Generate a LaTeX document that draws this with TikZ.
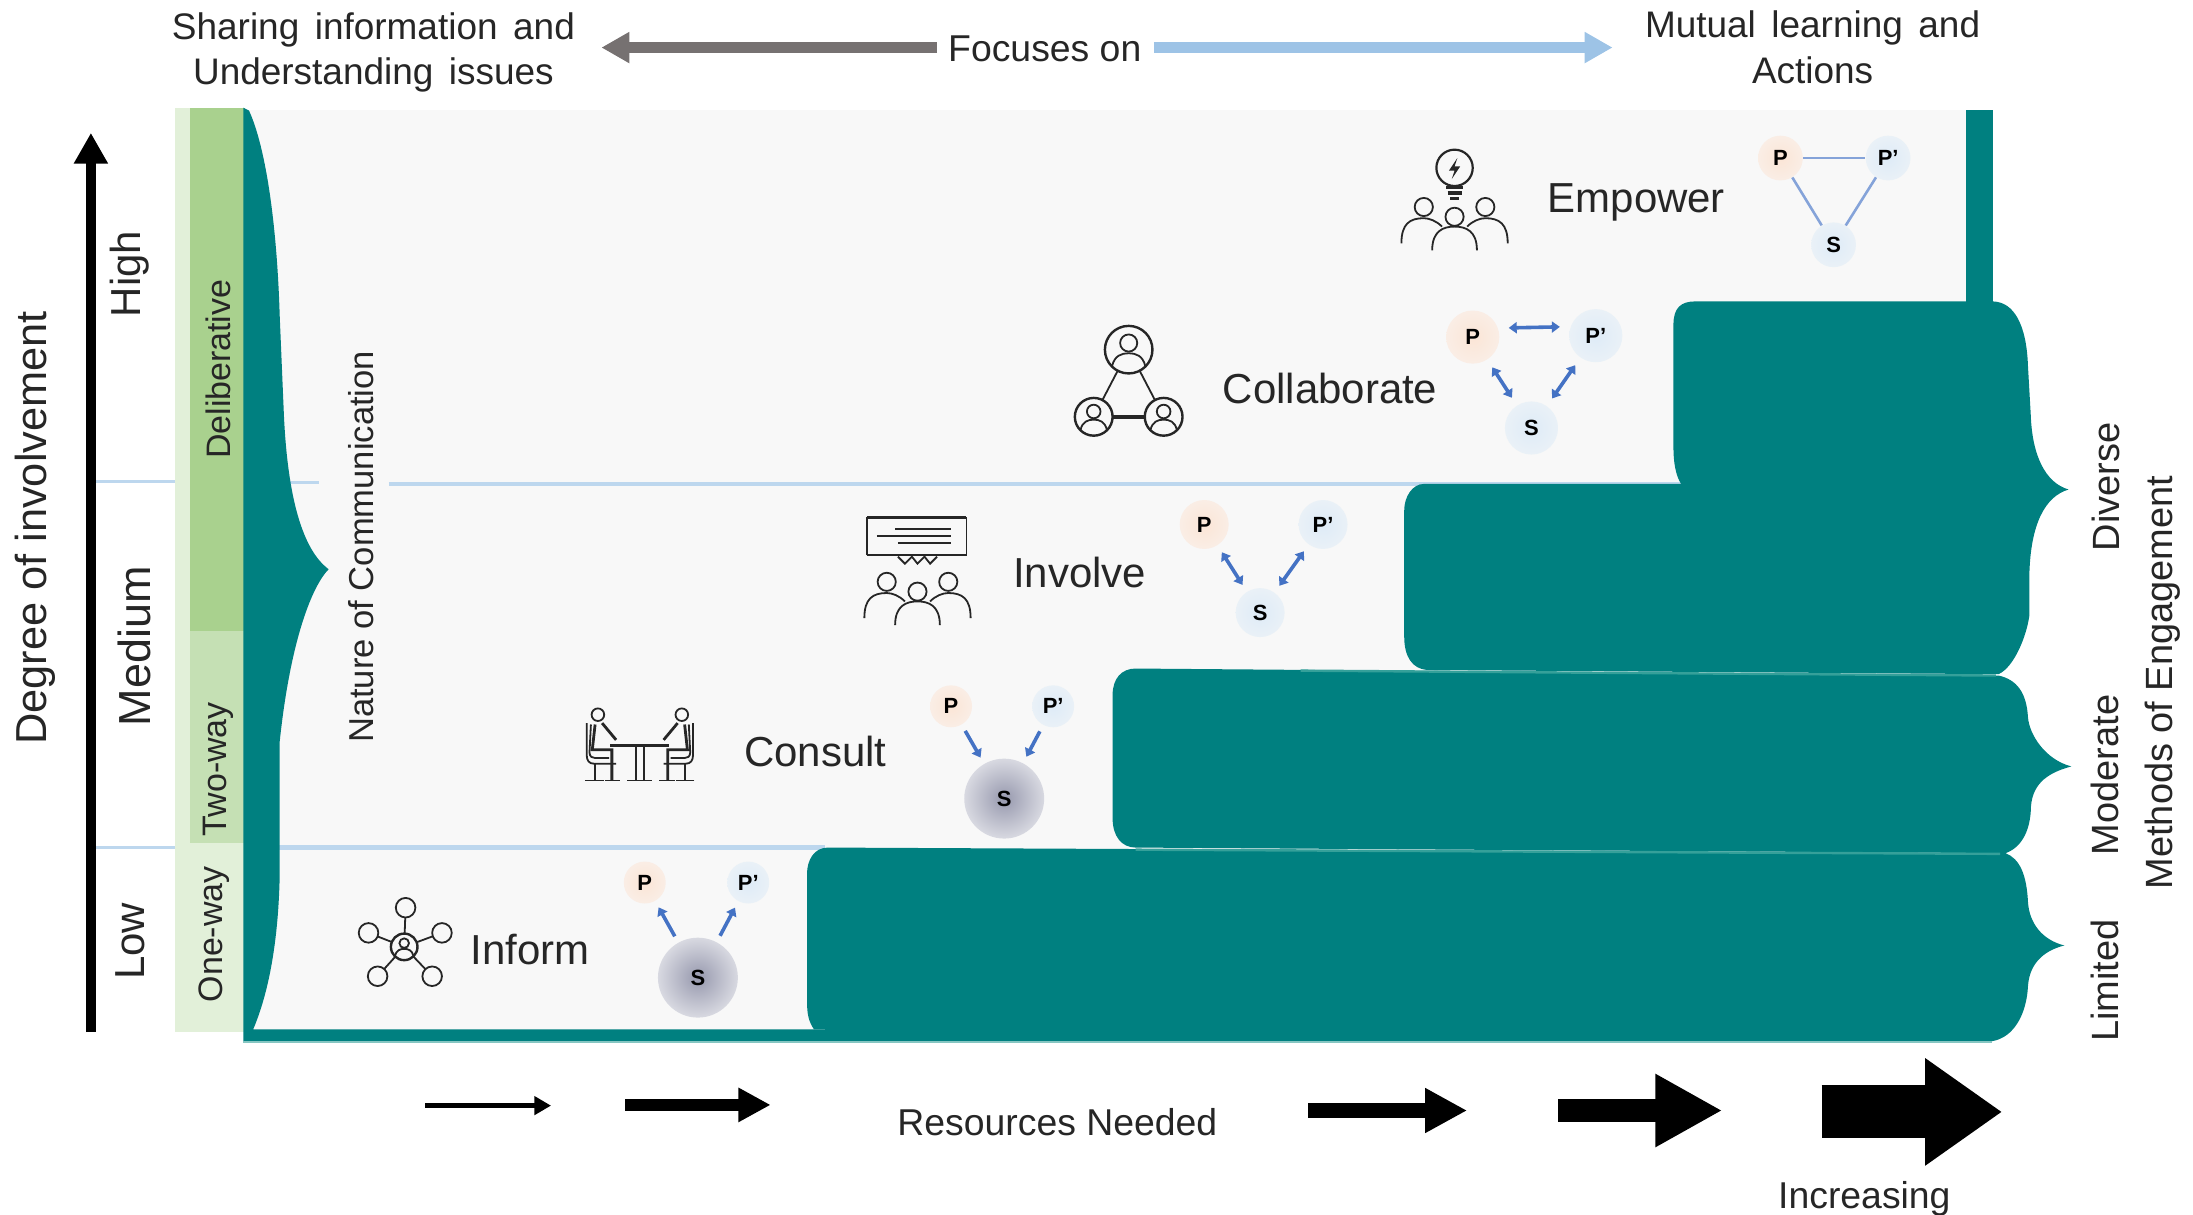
\documentclass[tikz,border=0pt]{standalone}
\usepackage{fontspec}
\usepackage{xcolor}
\usetikzlibrary{arrows.meta,shapes,positioning,calc}
\setmainfont{Liberation Sans}

\definecolor{tealfill}{HTML}{008080}
\definecolor{tealedge}{HTML}{35A09A}
\definecolor{panelgray}{HTML}{F8F8F8}
\definecolor{greendark}{HTML}{A9D18E}
\definecolor{greenmid}{HTML}{C5E0B4}
\definecolor{greenlight}{HTML}{E2F0D9}
\definecolor{sepblue}{HTML}{BDD7EE}
\definecolor{focusgray}{HTML}{767171}
\definecolor{focusblue}{HTML}{9DC3E6}
\definecolor{linkblue}{HTML}{4472C4}
\definecolor{softorange}{HTML}{FBE5D6}
\definecolor{softblue}{HTML}{DEEBF7}
\definecolor{sourcecore}{HTML}{9799AE}
\definecolor{sourcerim}{HTML}{D8D9E1}
\definecolor{txtdark}{HTML}{262626}

\newcommand{\wideword}{\spaceskip=0.42em\relax}

\tikzset{
  txt/.style={text=txtdark, inner sep=0pt, font=\fontsize{#1}{#1}\selectfont},
  toptxt/.style={text=txtdark, inner sep=0pt, align=center, font=\fontsize{18.5}{23}\selectfont\wideword},
  vert/.style={txt=#1, rotate=90},
  step label/.style={txt=21},
  iconline/.style={draw=txtdark, line width=0.9pt},
  pnode/.style={circle, minimum size=#1*0.7pt, inner sep=0pt, font=\bfseries\fontsize{11}{11}\selectfont,
    inner color=softorange, outer color=softorange!55!panelgray},
  qnode/.style={circle, minimum size=#1*0.7pt, inner sep=0pt, font=\bfseries\fontsize{11}{11}\selectfont,
    inner color=softblue, outer color=softblue!55!panelgray},
  snode/.style={circle, minimum size=40pt, inner sep=0pt, font=\bfseries\fontsize{11}{11}\selectfont,
    inner color=sourcecore, outer color=sourcerim},
  linkarrow/.style={line width=1.8pt, draw=linkblue, shorten >=#1, shorten <=#1,
    arrows={-{Triangle[length=4pt,width=5.5pt]}}},
  linkboth/.style={line width=1.8pt, draw=linkblue, shorten >=#1, shorten <=#1,
    arrows={{Triangle[length=4pt,width=5.5pt]}-{Triangle[length=4pt,width=5.5pt]}}},
  plainlink/.style={line width=1.3pt, draw=linkblue!65!white},
  resarrow/.style n args={3}{draw=black, line width=#1*0.7pt,
    arrows={-{Triangle[length=#2*0.7pt,width=#3*0.7pt]}}},
}

% three people with the middle head at #1,#2
\newcommand{\peoplegroup}[2]{%
  \begin{scope}[shift={(#1,#2)}]
    \draw[iconline] (0,0) circle[radius=6.5] (-22,-7) circle[radius=6.5] (22,-7) circle[radius=6.5];
    \draw[iconline] (-16,24) .. controls (-16,10) and (-8,7) .. (0,7) .. controls (8,7) and (16,10) .. (16,24);
    \draw[iconline] (-38,19) .. controls (-38,5) and (-32,1) .. (-22,1) .. controls (-18,1) and (-13,3) .. (-9,7);
    \draw[iconline] (38,19) .. controls (38,5) and (32,1) .. (22,1) .. controls (18,1) and (13,3) .. (9,7);
  \end{scope}}
% person inside a ring
\newcommand{\ringperson}[3]{%
  \begin{scope}[shift={(#1,#2)}, scale=#3]
    \draw[iconline, line width=1.2pt, fill=panelgray] (0,0) circle[radius=1];
    \draw[iconline] (0,-0.28) circle[radius=0.36];
    \draw[iconline] (-0.7,0.7) .. controls (-0.6,0.25) and (-0.3,0.15) .. (0,0.15) .. controls (0.3,0.15) and (0.6,0.25) .. (0.7,0.7);
  \end{scope}}
% one seated person, left side of the table
\newcommand{\seatedperson}{%
  \draw[iconline] (-30,511) circle[radius=4.5];
  \draw[iconline, line width=1.4pt] (-27,517) -- (-17,529) (-32,518) -- (-34,536) -- (-20,536) -- (-20,558);
  \draw[iconline] (-38,517) -- (-38,540) .. controls (-38,544) and (-36,546) .. (-33,546) -- (-17,546);
  \draw[iconline] (-35,518) -- (-36,538) .. controls (-36,541) and (-34,542) .. (-32,542) -- (-22,542);
  \draw[iconline] (-32,546) -- (-32,558) (-39,558) -- (-26,558) (-25,558) -- (-14,558);
}

\begin{document}
\begin{tikzpicture}[x=0.7pt, y=-0.7pt]
  \useasboundingbox (0,0) rectangle (1568,868.7);

  % Panel and green columns
  \fill[panelgray] (175,79) rectangle (1406,737);
  \fill[greenlight] (125,77) rectangle (175,738);
  \fill[greendark] (136,77) rectangle (175,451);
  \fill[greenmid] (136,451) rectangle (175,603);

  % Blue separators
  \coordinate (highL) at (65,344); \coordinate (highR) at (125,344);
  \coordinate (midL) at (65,606); \coordinate (midR) at (125,606);
  \draw[sepblue, line width=1.4pt] (highL) -- (highR);
  \draw[sepblue, line width=1.4pt] (midL) -- (midR);
  \coordinate (sepa) at (190,345); \coordinate (sepb) at (228,345);
  \coordinate (sepc) at (278,346); \coordinate (sepd) at (1205,346);
  \coordinate (sepe) at (190,606); \coordinate (sepf) at (590,606);
  \draw[sepblue, line width=1.8pt] (sepa) -- (sepb);
  \draw[sepblue, line width=1.8pt] (sepc) -- (sepd);
  \draw[sepblue, line width=2.4pt] (sepe) -- (sepf);

  % Teal blocks with their braces
  \fill[tealfill] (1406,79) rectangle (1425,217);
  \fill[tealfill] (1196.5,232) .. controls (1196.5,220) and (1202,215.5) .. (1212,215.5) -- (1425,215.5)
    .. controls (1440,216) and (1449,232) .. (1450,262) -- (1452,297)
    .. controls (1453,325) and (1462,345) .. (1479,350)
    .. controls (1462,355) and (1452,375) .. (1451,410) -- (1451,440)
    .. controls (1449,455) and (1440,477) .. (1429,482) -- (1020,479)
    .. controls (1010,478) and (1004,470) .. (1004,455) -- (1004,365)
    .. controls (1004,355) and (1010,346) .. (1018,346) -- (1202,346)
    .. controls (1198,340) and (1196.5,330) .. (1196.5,320) -- cycle;
  \fill[tealfill] (795.5,497) .. controls (795.5,485) and (802,478) .. (812,478) -- (1429,483)
    .. controls (1442,486) and (1449,495) .. (1450,513) .. controls (1451,525) and (1462,543) .. (1481,548)
    .. controls (1462,553) and (1452,562) .. (1452,580) .. controls (1451,595) and (1445,606) .. (1434,610)
    -- (812,606) .. controls (802,606) and (795.5,598) .. (795.5,585) -- cycle;
  \fill[tealfill] (577,625) .. controls (577,615) and (582,606) .. (592,606) -- (1434,610)
    .. controls (1444,614) and (1449,625) .. (1450,645) .. controls (1451,660) and (1460,672) .. (1476,676)
    .. controls (1460,680) and (1451,690) .. (1450,705) .. controls (1449,725) and (1440,742) .. (1424,744.5)
    -- (590,744.5) -- (590,736) -- (582,736) .. controls (578,730) and (577,725) .. (577,715) -- cycle;
  \draw[tealedge, line width=1.2pt] (930,479.5) -- (1427,483);
  \draw[tealedge, line width=1.2pt] (812,607.5) -- (1430,610.5);

  % Left brace and bottom bar
  \fill[tealfill] (174,77) -- (178,79) .. controls (190,105) and (198,160) .. (200,226) -- (203,297)
    .. controls (205,340) and (212,390) .. (235,407)
    .. controls (224,418) and (208,455) .. (200,530) -- (200,625)
    .. controls (199,680) and (190,715) .. (181,736) -- (590,736) -- (590,744.5) -- (174,744.5) -- cycle;
  \draw[tealedge!60!white, line width=0.8pt] (174,745) -- (1424,745);

  % Vertical axis
  \coordinate (axisbot) at (65,738); \coordinate (axistop) at (65,95);
  \draw[resarrow={7}{22}{23}] (axisbot) -- (axistop);
  \node[vert=21.7] (degree) at (25,377.5) {Degree of involvement};
  \node[vert=21] (high) at (93,196) {High};
  \node[vert=22.5] (medium) at (96,462) {Medium};
  \node[vert=21] (low) at (93,673) {Low};
  \node[vert=17] (delib) at (156,264) {Deliberative};
  \node[vert=17] (twoway) at (156,550) {Two-way};
  \node[vert=17] (oneway) at (153,668) {One-way};
  \node[vert=17.3] (nature) at (258,391) {Nature of Communication};

  % Top labels and arrows
  \node[toptxt] (sharing) at (267,37.5) {Sharing information and\\Understanding issues};
  \node[toptxt] (mutual) at (1296,34) {Mutual learning and\\Actions};
  \node[txt=18.7] (focus) at (747,35) {Focuses on};
  \coordinate (graytip) at (430,34); \coordinate (bluetip) at (1153,34);
  \coordinate (graytail) at (670,34); \coordinate (bluetail) at (825,34);
  \draw[resarrow={7.5}{20}{21}, draw=focusgray, color=focusgray] (graytail) -- (graytip);
  \draw[resarrow={7.5}{20}{21}, draw=focusblue, color=focusblue] (bluetail) -- (bluetip);

  % Right labels
  \node[vert=19] (diverse) at (1506,348) {Diverse};
  \node[vert=19] (moderate) at (1505,554) {Moderate};
  \node[vert=19] (limited) at (1505,701) {Limited};
  \node[vert=19] (methods) at (1546,488) {Methods of Engagement};

  % Bottom arrows
  \coordinate (ra) at (304,790.5); \coordinate (rb) at (394,790.5);
  \coordinate (rc) at (447,790); \coordinate (rd) at (551,790);
  \coordinate (re) at (935.5,794); \coordinate (rf) at (1049,794);
  \coordinate (rg) at (1114,794); \coordinate (rh) at (1231.5,794);
  \coordinate (ri) at (1302.5,795); \coordinate (rj) at (1431.5,795);
  \draw[resarrow={3.5}{12}{13}] (ra) -- (rb);
  \draw[resarrow={9}{23}{23}] (rc) -- (rd);
  \draw[resarrow={11}{30}{30}] (re) -- (rf);
  \draw[resarrow={17}{48}{49}] (rg) -- (rh);
  \draw[resarrow={38}{55}{73}] (ri) -- (rj);
  \node[txt=18.7] (resources) at (756,802) {Resources Needed};
  \node[txt=18.7] (increasing) at (1333,857) {Increasing};

  % Step labels
  \node[step label] (empower) at (1170,145) {Empower};
  \node[step label] (collab) at (951,278) {Collaborate};
  \node[step label] (involve) at (772,409) {Involve};
  \node[step label] (consult) at (583,537) {Consult};
  \node[step label] (inform) at (379,679) {Inform};

  % Empower links
  \node[pnode=32] (ePa) at (1273,113) {P};
  \node[qnode=32] (ePb) at (1350,113) {P'};
  \node[qnode=32] (eS) at (1311,175) {S};
  \draw[plainlink] (ePa) -- (ePb);
  \draw[plainlink] (ePa) -- (eS);
  \draw[plainlink] (ePb) -- (eS);

  % Collaborate links
  \node[pnode=38] (cPa) at (1053,241) {P};
  \node[qnode=38] (cPb) at (1141,240) {P'};
  \node[qnode=38] (cS) at (1095,306) {S};
  \draw[linkboth=4.5pt] ([yshift=4.5pt]cPa.east) -- ([yshift=4.5pt]cPb.west);
  \draw[linkboth=4.5pt] (cPa) -- (cS);
  \draw[linkboth=4.5pt] (cPb) -- (cS);

  % Involve links
  \node[pnode=35] (iPa) at (861,375) {P};
  \node[qnode=35] (iPb) at (946,375) {P'};
  \node[qnode=35] (iS) at (901,438) {S};
  \draw[linkboth=4pt] (iPa) -- (iS);
  \draw[linkboth=4pt] (iPb) -- (iS);

  % Consult links
  \node[pnode=30] (kPa) at (680,505) {P};
  \node[qnode=30] (kPb) at (753,505) {P'};
  \node[snode] (kS) at (718,571) {S};
  \draw[linkarrow=3.5pt] (kPa) -- (kS);
  \draw[linkarrow=3.5pt] (kPb) -- (kS);

  % Inform links
  \node[pnode=30] (fPa) at (461,631) {P};
  \node[qnode=30] (fPb) at (535,631) {P'};
  \node[snode] (fS) at (499,699) {S};
  \draw[linkarrow=3.5pt] (fS) -- (fPa);
  \draw[linkarrow=3.5pt] (fS) -- (fPb);

  % Empower icon
  \draw[iconline, line width=1.1pt] (1040,120) circle[radius=13];
  \fill[txtdark] (1042,113) -- (1036,122) -- (1040,122) -- (1038,128) -- (1044,119) -- (1040,119) -- cycle;
  \draw[iconline, line width=1.6pt] (1034,134) -- (1046,134) (1035,138) -- (1045,138) (1037,142) -- (1043,142);
  \peoplegroup{1040}{155}

  % Involve icon
  \draw[iconline] (620,397) -- (620,370) (691,370) -- (691,397) -- (620,397);
  \draw[iconline, line width=1.6pt] (620,370) -- (691,370);
  \draw[iconline] (640,378) -- (680,378) (627,383) -- (680,383) (642,388) -- (680,388);
  \draw[iconline] (642,398) -- (647,403) -- (652,398) -- (656,403) -- (661,398) -- (665,403) -- (670,398);
  \peoplegroup{656}{423}

  % Collaborate icon
  \coordinate (ringa) at (807,250); \coordinate (ringb) at (782,298); \coordinate (ringc) at (832,298);
  \draw[iconline] (ringa) -- (ringb) (ringa) -- (ringc);
  \draw[iconline, line width=1.8pt] (ringb) -- (ringc);
  \ringperson{807}{250}{17}
  \ringperson{782}{298}{13.5}
  \ringperson{832}{298}{13.5}

  % Consult icon
  \begin{scope}[shift={(457.5,0)}]
    \seatedperson
    \begin{scope}[xscale=-1]\seatedperson\end{scope}
    \draw[iconline, line width=1.4pt] (-21,533) -- (21,533);
    \draw[iconline] (-3,533) -- (-3,558) (3,533) -- (3,558) (-9,558) -- (9,558);
  \end{scope}

  % Inform icon
  \foreach \sx/\sy in {290/649, 263.5/667, 316/667, 270/698, 309/698}{
    \draw[iconline] (289,677) -- (\sx,\sy);
    \draw[iconline, fill=panelgray] (\sx,\sy) circle[radius=7];
  }
  \ringperson{289}{677}{9.5}
\end{tikzpicture}
\end{document}
